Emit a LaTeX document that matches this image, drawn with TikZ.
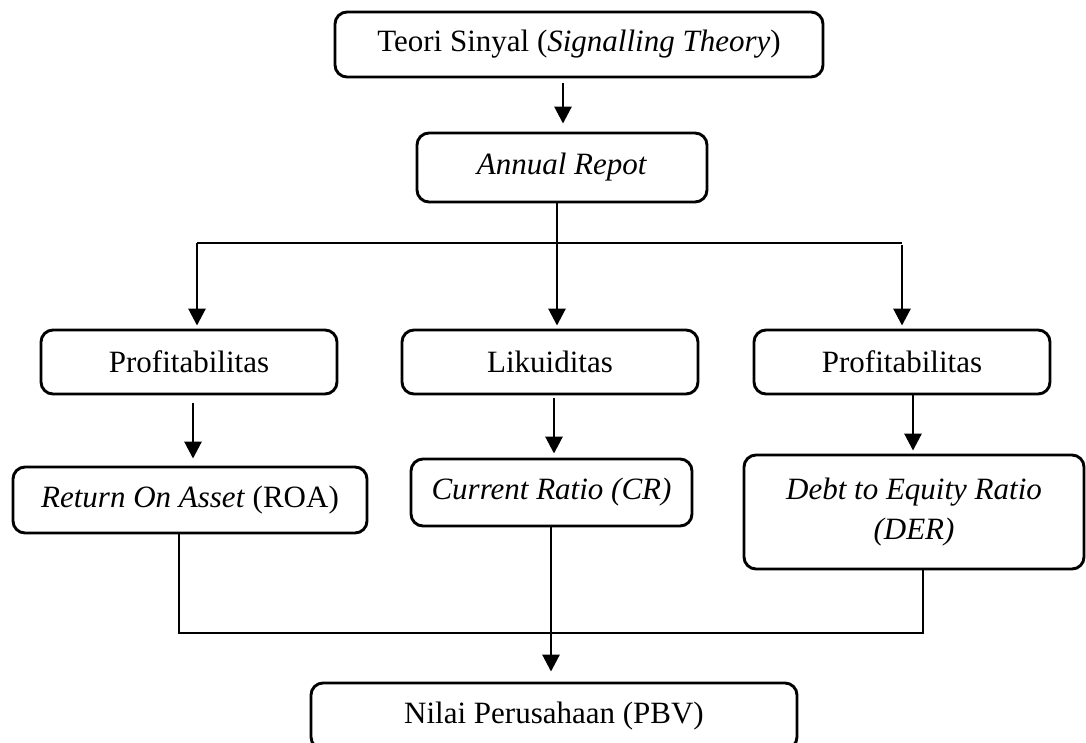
\documentclass[tikz,border=0pt]{standalone}
\usepackage{fontspec}
\setmainfont{Liberation Serif}
\usetikzlibrary{arrows.meta}
\begin{document}
\begin{tikzpicture}[x=1pt,y=-1pt,
  box/.style={draw,line width=2.9pt,rounded corners=12pt,inner sep=0pt,align=center,
    font=\fontsize{31}{40}\selectfont},
  link/.style={line width=2.9pt},
  arr/.style={line width=2.9pt,-{Triangle[width=17pt,length=17pt]}}]
\useasboundingbox (0,0) rectangle (1086,742);
\clip (0,0) rectangle (1086,742);
\node[box,minimum width=488pt,minimum height=65pt] (teori) at (579,44.5) {Teori Sinyal (\textit{Signalling Theory})};
\node[box,minimum width=290pt,minimum height=69pt] (annual) at (562,167.5) {\textit{Annual Repot}};
\node[box,minimum width=296pt,minimum height=64pt] (prof1) at (189,362) {Profitabilitas};
\node[box,minimum width=296pt,minimum height=64pt] (liku) at (550,362) {Likuiditas};
\node[box,minimum width=296pt,minimum height=64pt] (prof2) at (902,362) {Profitabilitas};
\node[box,minimum width=354pt,minimum height=66pt] (roa) at (190,500) {\textit{Return On Asset} (ROA)};
\node[box,minimum width=281pt,minimum height=67pt] (cr) at (551.5,492.5) {\textit{Current Ratio (CR)}};
\node[box,minimum width=340pt,minimum height=114pt] (der) at (914,512) {\textit{Debt to Equity Ratio}\\\textit{(DER)}};
\node[box,minimum width=486pt,minimum height=66pt] (pbv) at (554,716) {Nilai Perusahaan (PBV)};
\coordinate (jl) at (197,243);
\coordinate (jr) at (902,243);
\coordinate (bl) at (179,633);
\coordinate (br) at (923,633);
\draw[arr] ([xshift=-16pt,yshift=-5pt]teori.south) -- ([xshift=1pt,yshift=8pt]annual.north);
\draw[arr] ([xshift=-5pt]annual.south) -- ([xshift=7pt,yshift=3pt]liku.north);
\draw[link] (jl) -- (jr);
\draw[arr] (jl) -- ([xshift=8pt,yshift=3pt]prof1.north);
\draw[arr] ([yshift=-2pt]jr) -- ([yshift=3pt]prof2.north);
\draw[arr] ([xshift=4pt,yshift=-8pt]prof1.south) -- ([xshift=3pt,yshift=7pt]roa.north);
\draw[arr] ([xshift=4pt,yshift=-3pt]liku.south) -- ([xshift=2.5pt,yshift=4pt]cr.north);
\draw[arr] ([xshift=11pt,yshift=2pt]prof2.south) -- ([xshift=-1pt,yshift=3pt]der.north);
\draw[link] ([xshift=-11pt]roa.south) -- (bl) -- (br) -- ([xshift=9pt]der.south);
\draw[arr] ([xshift=-0.5pt]cr.south) -- ([xshift=-3pt,yshift=10pt]pbv.north);
\end{tikzpicture}
\end{document}
